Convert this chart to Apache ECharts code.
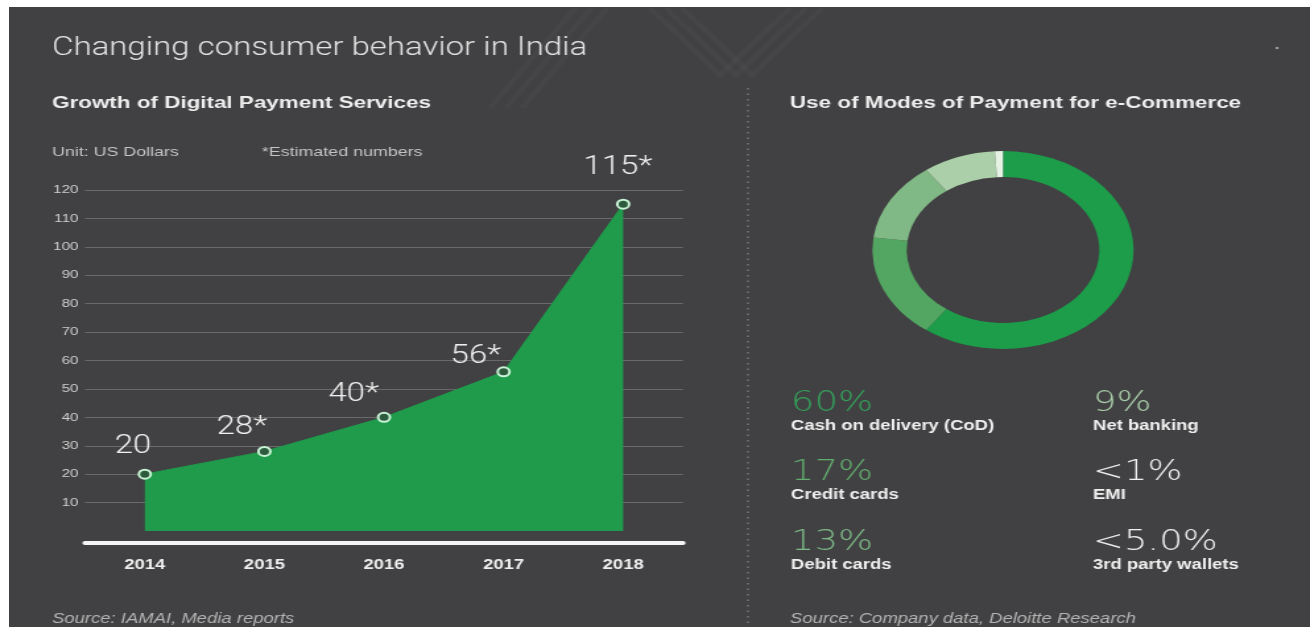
<!DOCTYPE html>
<html><head><meta charset="utf-8">
<script src="https://cdn.jsdelivr.net/npm/echarts@6/dist/echarts.min.js"></script>
<style>
html,body{margin:0;padding:0;background:#fff;width:1310px;height:627px;overflow:hidden;}
#bg{position:absolute;left:9px;top:7px;width:1301px;height:620px;background:#414143;}
#chart{position:absolute;left:0;top:0;width:993px;height:627px;transform:scaleX(1.3192);transform-origin:0 0;}
</style></head>
<body><div id="bg"></div><div id="chart"></div>
<script>
// ---- data ----
const years = ['2014', '2015', '2016', '2017', '2018'];
const paymentValues = [20, 28, 40, 56, 115];
const valueLabels = ['20', '28*', '40*', '56*', '115*'];
const modeNames = ['Cash on delivery (CoD)', 'Credit cards', 'Debit cards', 'Net banking', 'EMI', '3rd party wallets'];
const modeShares = [60, 17, 13, 9, 1];
const modeShareLabels = ['60%', '17%', '13%', '9%', '<1%', '<5.0%'];

// ---- styles ----
const S = 1.3192; // horizontal stretch of the original image
const X = v => v / S;
const labelOffsets = [[-9, -27], [-17, -24], [-23, -23], [-21, -15], [-4, -36]];
const ringColors = ['#1d9c4a', '#52a661', '#80b985', '#abcfa8', '#e6f2e4'];
const shareColors = ['#34a15a', '#62ac6d', '#7db985', '#a9cfa9', '#f0f0f0', '#f0f0f0'];
const FONT = '"Liberation Sans", Arial, sans-serif';
const LIGHT = 'Roboto, "Liberation Sans", sans-serif';
const WIDE = '"DejaVu Sans", sans-serif';

const chart = echarts.init(document.getElementById('chart'), null, {renderer: 'canvas'});

const graphics = [];
function txt(x, y, text, o) {
  graphics.push({type: 'text', x: X(x), y: y, silent: true, z: 10,
    style: Object.assign({text: text, fill: '#eeeeee', fontFamily: FONT, fontSize: 13,
      align: 'left', verticalAlign: 'middle'}, o || {})});
}
txt(52, 49, 'Changing consumer behavior in India', {fontSize: 25, fontWeight: 300, fontFamily: LIGHT, fill: '#e4e4e4'});
txt(52, 103, 'Growth of Digital Payment Services', {fontSize: 17, fontWeight: 'bold'});
txt(52, 152, 'Unit: US Dollars', {fontSize: 13.5, fill: '#c4c4c4'});
txt(262, 152, '*Estimated numbers', {fontSize: 13.5, fill: '#c4c4c4'});
txt(790, 103, 'Use of Modes of Payment for e-Commerce', {fontSize: 17, fontWeight: 'bold'});
txt(52, 619, 'Source: IAMAI, Media reports', {fontSize: 14, fontStyle: 'italic', fill: '#b4b4b4'});
txt(790, 619, 'Source: Company data, Deloitte Research', {fontSize: 14, fontStyle: 'italic', fill: '#b4b4b4'});

const colX = [791, 1093];
const rowY = [404, 473, 543];
modeNames.forEach((name, i) => {
  const c = i < 3 ? 0 : 1, r = i % 3;
  txt(colX[c], rowY[r], modeShareLabels[i], {fontSize: 28, fontWeight: 200, fontFamily: WIDE, fill: shareColors[i]});
  txt(colX[c], rowY[r] + 22, name, {fontSize: 14, fontWeight: 'bold', fill: '#f0f0f0'});
});

// dotted separator
graphics.push({type: 'line', silent: true, z: 1,
  shape: {x1: X(748), y1: 88, x2: X(748), y2: 627},
  style: {stroke: '#7a7a7a', lineWidth: 1.5, lineDash: [1.5, 4]}});
// faint watermark
[0, 16, 32].forEach(d => {
  graphics.push({type: 'polyline', silent: true, z: 0,
    shape: {points: [[X(490 + d), 108], [X(575 + d), 8]]},
    style: {stroke: 'rgba(255,255,255,0.025)', lineWidth: 5, fill: null}});
  graphics.push({type: 'polyline', silent: true, z: 0,
    shape: {points: [[X(650 + d), 8], [X(720 + d), 75], [X(790 + d), 8]]},
    style: {stroke: 'rgba(255,255,255,0.025)', lineWidth: 5, fill: null}});
});
graphics.push({type: 'circle', silent: true, shape: {cx: X(1277), cy: 48, r: 1.3}, style: {fill: '#999'}});

chart.setOption({
  animation: false,
  backgroundColor: 'transparent',
  graphic: graphics,
  grid: {left: X(85), right: 993 - X(683), top: 190, bottom: 96},
  xAxis: {
    type: 'category', data: years, boundaryGap: true, offset: 12,
    axisLine: {onZero: false, lineStyle: {color: '#f4f4f4', width: 4}},
    axisTick: {show: false},
    axisLabel: {color: '#efefef', fontSize: 14, fontWeight: 'bold', fontFamily: FONT, margin: 15}
  },
  yAxis: {
    type: 'value', min: 0, max: 120, interval: 10,
    axisLine: {show: false}, axisTick: {show: false},
    axisLabel: {color: '#cfcfcf', fontSize: 11.5, fontFamily: FONT, margin: 5, showMinLabel: false},
    splitLine: {showMinLine: false, lineStyle: {color: '#6a6a6a', width: 1}}
  },
  series: [{
    type: 'line',
    data: paymentValues.map((v, i) => ({value: v, label: {offset: labelOffsets[i]}})),
    symbol: 'circle', symbolSize: 9,
    itemStyle: {color: '#2d5a3c', borderColor: '#c9f3d6', borderWidth: 2},
    lineStyle: {color: '#1f9b4b', width: 1},
    areaStyle: {color: '#1f9b4b', opacity: 1},
    label: {show: true, position: 'inside', formatter: p => valueLabels[p.dataIndex],
      color: '#f0f0f0', fontSize: 25, fontWeight: 300, fontFamily: LIGHT},
    silent: true, z: 3
  }, {
    type: 'pie', center: [X(1003), 250], radius: [73, 99],
    startAngle: 90, clockwise: true, silent: true,
    label: {show: false}, labelLine: {show: false},
    data: modeShares.map((v, i) => ({value: v, name: modeNames[i], itemStyle: {color: ringColors[i]}}))
  }]
});
</script>
</body></html>
